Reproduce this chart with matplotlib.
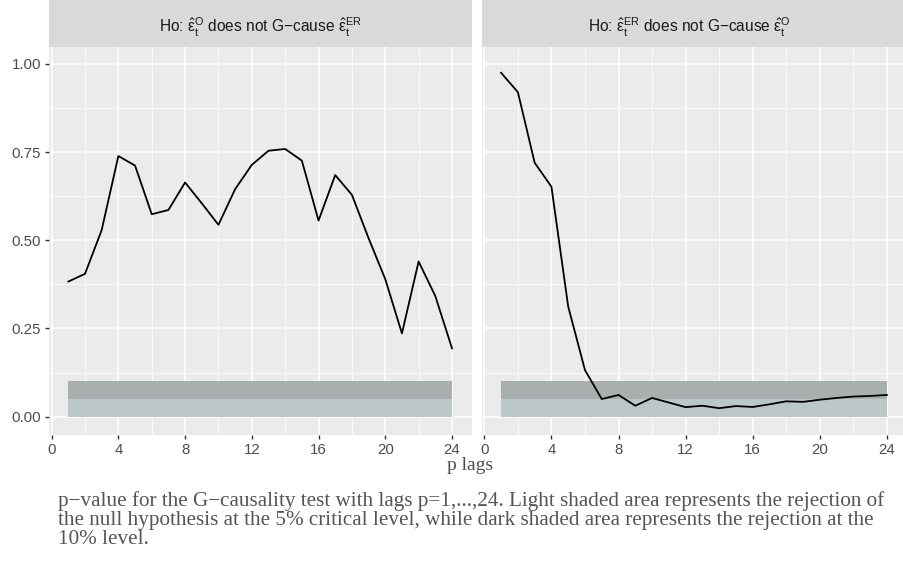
import matplotlib
matplotlib.use("Agg")
import matplotlib.pyplot as plt
from matplotlib.ticker import MultipleLocator

plt.rcParams['mathtext.fontset'] = 'custom'
plt.rcParams['mathtext.rm'] = 'Liberation Sans'
plt.rcParams['mathtext.it'] = 'Liberation Sans'
plt.rcParams['mathtext.bf'] = 'Liberation Sans'
plt.rcParams['font.family'] = ['Liberation Sans', 'DejaVu Sans']

# p-values
lags = list(range(1, 25))
pval_o_to_er = [0.383, 0.405, 0.529, 0.739, 0.712, 0.574, 0.586, 0.664, 0.605, 0.544,
                0.645, 0.714, 0.754, 0.759, 0.726, 0.556, 0.685, 0.629, 0.506, 0.390,
                0.236, 0.440, 0.342, 0.194]
pval_er_to_o = [0.975, 0.920, 0.720, 0.652, 0.312, 0.132, 0.050, 0.0615, 0.031, 0.053,
                0.040, 0.027, 0.031, 0.024, 0.030, 0.0275, 0.035, 0.0435, 0.042, 0.048,
                0.053, 0.057, 0.0587, 0.0615]
titles = [r"Ho: $\hat{\epsilon}_\mathrm{t}^\mathrm{O}$ does not G" + "\u2212" + r"cause $\hat{\epsilon}_\mathrm{t}^\mathrm{ER}$",
          r"Ho: $\hat{\epsilon}_\mathrm{t}^\mathrm{ER}$ does not G" + "\u2212" + r"cause $\hat{\epsilon}_\mathrm{t}^\mathrm{O}$"]
level_10 = 0.10
level_5 = 0.05

W, H = 904, 563
fig = plt.figure(figsize=(W / 100, H / 100), dpi=100)

panels = [(49.3, 472.0), (482.0, 907.0)]
top, bottom = 46.7, 435.0
series = [pval_o_to_er, pval_er_to_o]

for i, ((x0, x1), vals, title) in enumerate(zip(panels, series, titles)):
    ax = fig.add_axes([x0 / W, 1 - bottom / H, (x1 - x0) / W, (bottom - top) / H])
    ax.set_facecolor('#EBEBEB')
    ax.set_xlim(-0.14, 25.2)
    ax.set_ylim(-0.052, 1.049)
    ax.xaxis.set_major_locator(MultipleLocator(4))
    ax.xaxis.set_minor_locator(MultipleLocator(2))
    ax.yaxis.set_major_locator(MultipleLocator(0.25))
    ax.yaxis.set_minor_locator(MultipleLocator(0.125))
    ax.grid(which='major', color='white', lw=1.1)
    ax.grid(which='minor', color='white', lw=0.55)
    ax.set_axisbelow(True)
    for s in ax.spines.values():
        s.set_visible(False)
    ax.tick_params(which='minor', length=0)
    ax.tick_params(which='major', length=3, width=1, color='#333333',
                   labelcolor='#4D4D4D', labelsize=10.8, pad=3)
    if i == 0:
        ax.set_yticklabels(['%.2f' % v for v in ax.get_yticks()])
    else:
        ax.tick_params(axis='y', length=0, labelleft=False)

    ax.fill_between([1, 24], 0, level_10, color='#A9AFAE', lw=0)
    ax.fill_between([1, 24], 0, level_5, color='#BBC8C7', lw=0)
    ax.plot(lags, vals, color='black', lw=1.3)

    sax = fig.add_axes([x0 / W, 1 - top / H, (x1 - x0) / W, top / H])
    sax.set_facecolor('#D9D9D9')
    sax.set_xticks([])
    sax.set_yticks([])
    for s in sax.spines.values():
        s.set_visible(False)
    cx = ((x0 + min(x1, 897)) / 2 - x0) / (x1 - x0) if i == 1 else 0.5
    sax.text(cx, 0.42, title, ha='center', va='center', fontsize=11.2, color='#1A1A1A')

fig.text(470 / W, 1 - 466 / H, 'p lags', ha='center', va='center',
         family='Liberation Serif', fontsize=14, color='#4D4D4D')

caption = ("p\u2212value for the G\u2212causality test with lags p=1,...,24. Light shaded area represents the rejection of\n"
           "the null hypothesis at the 5% critical level, while dark shaded area represents the rejection at the\n"
           "10% level.")
fig.text(58 / W, 1 - 491 / H, caption, ha='left', va='top', family='Liberation Serif',
         fontsize=15.2, color='#555555', linespacing=1.0)

fig.savefig('out.png', dpi=100)
